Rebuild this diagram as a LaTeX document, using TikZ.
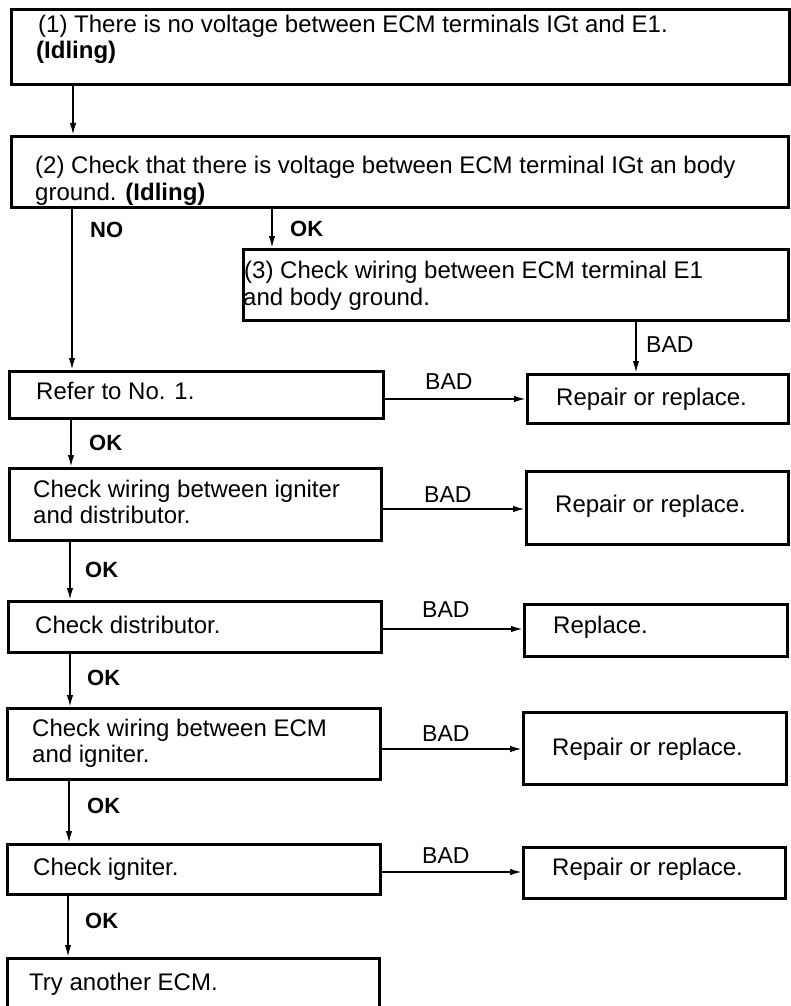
\documentclass[tikz,border=0pt]{standalone}
\usepackage{fontspec}
\setmainfont{Liberation Sans}
\usetikzlibrary{arrows.meta}
\tikzset{
  box/.style={draw=black, line width=2.6pt, rectangle, inner sep=0pt, anchor=north west},
  txt/.style={anchor=base west, inner sep=0pt, font=\fontsize{24}{27}\selectfont},
  lbl/.style={anchor=base west, inner sep=0pt, font=\fontsize{23}{26}\selectfont},
  blbl/.style={anchor=base west, inner sep=0pt, font=\fontsize{22}{26}\selectfont\bfseries},
  arr/.style={draw=black, line width=1.8pt, -{Latex[length=12pt,width=6.5pt]}}
}
\begin{document}
\begin{tikzpicture}[x=1pt,y=-1pt]
\useasboundingbox[fill=white] (0,0) rectangle (791,1006);
% boxes
\node[box, minimum width=778pt, minimum height=75pt] (b1) at (10,8) {};
\node[box, minimum width=777pt, minimum height=71pt] (b2) at (10,135) {};
\node[box, minimum width=545pt, minimum height=71pt] (b3) at (242,248) {};
\node[box, minimum width=374pt, minimum height=47pt] (refer) at (8,370) {};
\node[box, minimum width=372pt, minimum height=72pt] (ign) at (8,467) {};
\node[box, minimum width=373pt, minimum height=51pt] (dist) at (7,600) {};
\node[box, minimum width=373pt, minimum height=71pt] (ecm) at (6,707) {};
\node[box, minimum width=373pt, minimum height=50pt] (chk) at (6,843) {};
\node[box, minimum width=372pt, minimum height=70pt] (try) at (6,957) {};
\node[box, minimum width=261pt, minimum height=49pt] (rep1) at (526,373) {};
\node[box, minimum width=262pt, minimum height=73pt] (rep2) at (525,470) {};
\node[box, minimum width=263pt, minimum height=52pt] (repl) at (523,603) {};
\node[box, minimum width=263pt, minimum height=72pt] (rep3) at (522,711) {};
\node[box, minimum width=262pt, minimum height=51pt] (rep4) at (522,846) {};
% texts
\node[txt] (t1a) at (38,33) {(1) There is no voltage between ECM terminals IGt and E1.};
\node[txt] (t1b) at (36,59) {\bfseries (Idling)};
\node[txt] (t2a) at (35,173) {(2) Check that there is voltage between ECM terminal IGt an body};
\node[txt] (t2b) at (35,200) {ground. \textbf{(Idling)}};
\node[txt] (t3a) at (244,278) {(3) Check wiring between ECM terminal E1};
\node[txt] (t3b) at (243,305) {and body ground.};
\node[txt] (tr) at (36,399) {Refer to No. 1.};
\node[txt] (tia) at (33,497) {Check wiring between igniter};
\node[txt] (tib) at (33,523) {and distributor.};
\node[txt] (td) at (35,633) {Check distributor.};
\node[txt] (tea) at (32,736) {Check wiring between ECM};
\node[txt] (teb) at (32,762) {and igniter.};
\node[txt] (tc) at (33,875) {Check igniter.};
\node[txt] (tt) at (29,990) {Try another ECM.};
\node[txt] (tr1) at (556,405) {Repair or replace.};
\node[txt] (tr2) at (555,512) {Repair or replace.};
\node[txt] (trl) at (553,633) {Replace.};
\node[txt] (tr3) at (552,755) {Repair or replace.};
\node[txt] (tr4) at (552,875) {Repair or replace.};
% labels
\node[blbl] (lno) at (90,237) {NO};
\node[blbl] (lok0) at (290,236) {OK};
\node[lbl] (lbad0) at (646,352) {BAD};
\node[blbl] (lok1) at (89,450) {OK};
\node[blbl] (lok2) at (85,577) {OK};
\node[blbl] (lok3) at (87,685) {OK};
\node[blbl] (lok4) at (87,813) {OK};
\node[blbl] (lok5) at (85,928) {OK};
\node[lbl] (lbad1) at (425,389) {BAD};
\node[lbl] (lbad2) at (424,502) {BAD};
\node[lbl] (lbad3) at (422,617) {BAD};
\node[lbl] (lbad4) at (422,741) {BAD};
\node[lbl] (lbad5) at (422,863) {BAD};
% vertical connectors
\draw[arr] (b1.south -| 73,0) -- (b2.north -| 73,0);
\draw[arr] (b2.south -| 72,0) -- (refer.north -| 72,0);
\draw[arr] (b2.south -| 272,0) -- (b3.north -| 272,0);
\draw[arr] (b3.south -| 636,0) -- (rep1.north -| 636,0);
\draw[arr] (refer.south -| 71,0) -- (ign.north -| 71,0);
\draw[arr] (ign.south -| 70,0) -- (dist.north -| 70,0);
\draw[arr] (dist.south -| 70,0) -- (ecm.north -| 70,0);
\draw[arr] (ecm.south -| 69,0) -- (chk.north -| 69,0);
\draw[arr] (chk.south -| 68,0) -- (try.north -| 68,0);
% horizontal connectors
\draw[arr] (refer.east |- 0,399) -- (rep1.west |- 0,399);
\draw[arr] (ign.east |- 0,509) -- (rep2.west |- 0,509);
\draw[arr] (dist.east |- 0,629) -- (repl.west |- 0,629);
\draw[arr] (ecm.east |- 0,749) -- (rep3.west |- 0,749);
\draw[arr] (chk.east |- 0,872) -- (rep4.west |- 0,872);
\end{tikzpicture}
\end{document}
